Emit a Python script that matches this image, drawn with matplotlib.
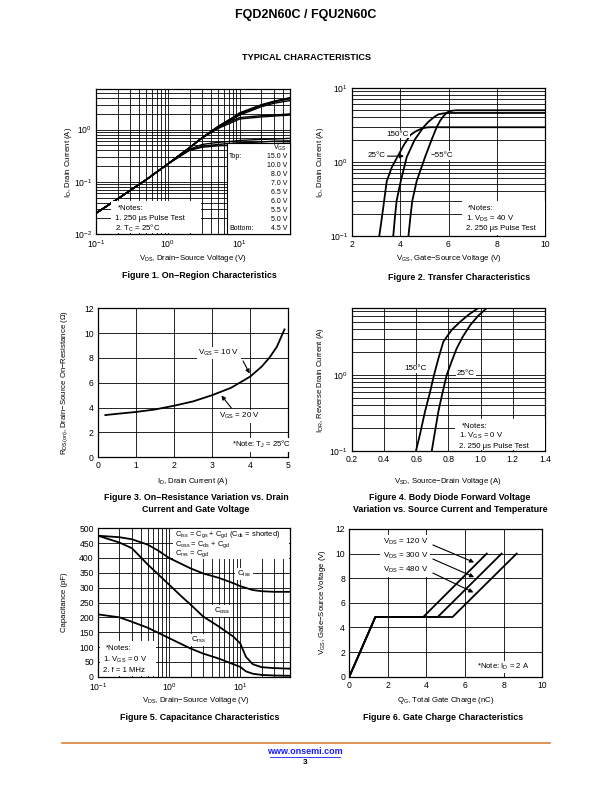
import matplotlib
matplotlib.use('Agg')
import matplotlib.pyplot as plt
from matplotlib.patches import Rectangle
from matplotlib.lines import Line2D
from matplotlib.ticker import LogLocator, NullFormatter, FormatStrFormatter
import numpy as np

plt.rcParams['font.family'] = ['Liberation Sans', 'DejaVu Sans']
plt.rcParams['mathtext.fontset'] = 'custom'
plt.rcParams['mathtext.rm'] = 'Liberation Sans'
plt.rcParams['mathtext.it'] = 'Liberation Sans:italic'
plt.rcParams['mathtext.bf'] = 'Liberation Sans:bold'
plt.rcParams['mathtext.default'] = 'regular'

# ---------------- DATA ----------------
# Figure 1: On-region characteristics (ID vs VDS for several VGS)
fig1_vds = [0.1, 0.2, 0.5, 1, 2, 3, 5, 8, 10, 20, 30, 50]
fig1_vgs_labels = ['15.0 V', '10.0 V', '8.0 V', '7.0 V', '6.5 V', '6.0 V', '5.5 V', '5.0 V', '4.5 V']
fig1_id_15v = [0.025, 0.047, 0.11, 0.22, 0.45, 0.70, 1.15, 1.70, 2.10, 3.00, 3.50, 4.10]
fig1_id_10v = [0.025, 0.047, 0.11, 0.22, 0.45, 0.70, 1.15, 1.70, 2.05, 2.95, 3.45, 4.00]
fig1_id_8v = [0.025, 0.047, 0.11, 0.22, 0.45, 0.70, 1.14, 1.65, 2.00, 2.90, 3.40, 3.90]
fig1_id_7v = [0.025, 0.047, 0.11, 0.22, 0.45, 0.70, 1.12, 1.60, 1.90, 2.75, 3.20, 3.60]
fig1_id_65v = [0.025, 0.047, 0.11, 0.22, 0.45, 0.70, 1.10, 1.50, 1.70, 1.85, 1.90, 2.00]
fig1_id_6v = [0.025, 0.047, 0.11, 0.22, 0.45, 0.69, 1.05, 1.40, 1.60, 1.75, 1.82, 1.90]
fig1_id_55v = [0.025, 0.047, 0.11, 0.22, 0.42, 0.52, 0.57, 0.60, 0.62, 0.65, 0.66, 0.68]
fig1_id_5v = [0.025, 0.047, 0.11, 0.22, 0.41, 0.48, 0.52, 0.55, 0.56, 0.58, 0.60, 0.61]
fig1_id_45v = [0.025, 0.047, 0.11, 0.22, 0.40, 0.46, 0.49, 0.50, 0.51, 0.53, 0.54, 0.55]

# Figure 2: Transfer characteristics
fig2_vgs_150 = [3.13, 3.22, 3.30, 3.44, 3.65, 3.88, 4.15, 4.41, 4.60, 4.80, 4.96, 5.10, 5.25, 10.0]
fig2_id_150 = [0.10, 0.16, 0.25, 0.55, 0.85, 1.17, 1.70, 2.30, 2.55, 2.75, 2.87, 2.93, 2.95, 2.95]
fig2_vgs_25 = [3.71, 3.78, 3.85, 4.02, 4.27, 4.60, 4.96, 5.15, 5.30, 5.45, 5.58, 5.75, 5.90, 6.10, 10.0]
fig2_id_25 = [0.10, 0.18, 0.30, 0.55, 1.17, 2.00, 2.95, 3.45, 3.80, 4.15, 4.40, 4.52, 4.58, 4.60, 4.60]
fig2_vgs_m55 = [4.34, 4.42, 4.50, 4.68, 5.03, 5.30, 5.51, 5.65, 5.80, 5.92, 6.00, 6.15, 6.30, 10.0]
fig2_id_m55 = [0.10, 0.18, 0.30, 0.55, 1.17, 2.00, 2.95, 3.60, 4.20, 4.60, 4.80, 4.93, 5.00, 5.00]

# Figure 3: On-resistance vs drain current
fig3_id = [0.2, 0.5, 1.0, 1.5, 2.0, 2.5, 3.0, 3.5, 4.0, 4.3, 4.5, 4.7, 4.9]
fig3_rds = [3.4, 3.5, 3.65, 3.85, 4.15, 4.5, 5.0, 5.6, 6.5, 7.3, 8.0, 8.9, 10.3]

# Figure 4: Body diode forward voltage
fig4_vsd_150 = [0.599, 0.625, 0.655, 0.685, 0.711, 0.740, 0.769, 0.820, 0.873, 0.930, 0.986]
fig4_is_150 = [0.10, 0.17, 0.33, 0.58, 1.00, 1.70, 2.74, 3.90, 5.00, 6.30, 7.60]
fig4_vsd_25 = [0.697, 0.715, 0.738, 0.765, 0.790, 0.820, 0.852, 0.890, 0.935, 0.985, 1.039]
fig4_is_25 = [0.10, 0.17, 0.33, 0.60, 1.00, 1.50, 2.24, 3.20, 4.50, 6.00, 7.60]

# Figure 5: Capacitance characteristics
fig5_vds_ciss = [0.1, 0.2, 0.3, 0.5, 0.7, 1, 2, 3, 5, 8, 10, 15, 20, 30, 50]
fig5_ciss = [475, 470, 463, 445, 425, 400, 365, 348, 333, 315, 305, 292, 288, 286, 286]
fig5_vds_coss = [0.1, 0.2, 0.3, 0.5, 0.7, 1, 1.5, 2, 3, 5, 8, 10, 12, 15, 20, 30, 50]
fig5_coss = [475, 452, 433, 378, 345, 310, 270, 243, 203, 169, 135, 112, 67, 42, 32, 29, 27]
fig5_vds_crss = [0.1, 0.2, 0.3, 0.5, 1, 2, 3, 5, 8, 10, 12, 15, 20, 30, 50]
fig5_crss = [210, 200, 185, 165, 130, 95, 78, 61, 42, 33, 18, 10, 6, 4, 3]

# Figure 6: Gate charge characteristics
fig6_qg_120 = [0, 1.35, 3.83, 7.12]
fig6_qg_300 = [0, 1.35, 4.58, 7.89]
fig6_qg_480 = [0, 1.35, 5.35, 8.67]
fig6_vgs = [0, 4.85, 4.85, 10.0]

# ---------------- FIGURE ----------------
W, H = 612, 792
fig = plt.figure(figsize=(W / 100, H / 100), dpi=100)


def make_ax(l, t, r, b):
    return fig.add_axes([l / W, 1 - b / H, (r - l) / W, (b - t) / H])


def style(ax):
    for s in ax.spines.values():
        s.set_linewidth(0.9)
        s.set_color('black')
    ax.tick_params(which='both', length=0, labelsize=6.2, pad=3)
    ax.set_axisbelow(True)


def ftext(x, y, s, size=5.6, ha='center', va='center', **kw):
    return fig.text(x / W, 1 - y / H, s, fontsize=size, ha=ha, va=va, **kw)


def white_rect(x0, y0, x1, y1, edge='none', lw=0.8):
    r = Rectangle((x0 / W, 1 - y1 / H), (x1 - x0) / W, (y1 - y0) / H,
                  transform=fig.transFigure, facecolor='white', edgecolor=edge,
                  linewidth=lw, zorder=2)
    fig.add_artist(r)


def log_minor(axis):
    axis.set_minor_locator(LogLocator(base=10, subs=np.arange(2, 10)))
    axis.set_minor_formatter(NullFormatter())


GRID = dict(color='black', linewidth=0.6)
LW = 1.3
WB = dict(facecolor='white', edgecolor='none', pad=0.8)

# Header
ftext(306, 15, 'FQD2N60C / FQU2N60C', size=9, weight='bold')
ftext(306, 57, 'TYPICAL CHARACTERISTICS', size=6.6, weight='bold')

# ---------- Figure 1 ----------
ax1 = make_ax(96, 89, 290, 234)
style(ax1)
ax1.set_xscale('log')
ax1.set_yscale('log')
ax1.set_xlim(0.1, 50)
ax1.set_ylim(0.01, 6)
log_minor(ax1.xaxis)
log_minor(ax1.yaxis)
ax1.grid(which='both', **GRID)
for ys in [fig1_id_15v, fig1_id_10v, fig1_id_8v, fig1_id_7v, fig1_id_65v,
           fig1_id_6v, fig1_id_55v, fig1_id_5v, fig1_id_45v]:
    ax1.plot(fig1_vds, ys, color='black', lw=1.0)
# legend box
white_rect(227, 143, 290, 234, edge='black')
ftext(280, 148, '$V_{GS}$', size=5.0)
ftext(229, 156, 'Top:', size=5.0, ha='left')
ftext(229, 229, 'Bottom:', size=5.0, ha='left')
for i, lab in enumerate(fig1_vgs_labels):
    ftext(287, 156 + i * 9.1, lab, size=5.0, ha='right')
# notes
white_rect(111, 201, 201, 233)
ftext(118, 208, '*Notes:', size=5.6, ha='left')
ftext(115, 218.5, '1. 250 μs Pulse Test', size=5.6, ha='left')
ftext(115, 228.5, '2. $T_C$ = 25°C', size=5.6, ha='left')
ftext(193, 258, '$V_{DS}$, Drain−Source Voltage (V)', size=5.6)
ftext(69, 162, '$I_D$, Drain Current (A)', size=5.6, rotation=90)
ftext(199, 276, 'Figure 1. On−Region Characteristics', size=6.4, weight='bold')

# ---------- Figure 2 ----------
ax2 = make_ax(352, 88, 545, 236)
style(ax2)
ax2.set_yscale('log')
ax2.set_xlim(2, 10)
ax2.set_ylim(0.1, 10)
ax2.set_xticks([2, 4, 6, 8, 10])
log_minor(ax2.yaxis)
ax2.grid(which='major', axis='x', **GRID)
ax2.grid(which='both', axis='y', **GRID)
ax2.plot(fig2_vgs_150, fig2_id_150, color='black', lw=LW)
ax2.plot(fig2_vgs_25, fig2_id_25, color='black', lw=LW)
ax2.plot(fig2_vgs_m55, fig2_id_m55, color='black', lw=LW)
ax2.annotate('', xy=(4.27, 1.2), xytext=(3.35, 1.2),
             arrowprops=dict(arrowstyle='-|>', color='black', lw=0.8, mutation_scale=6))
ftext(377, 155.7, '25°C', size=5.8, bbox=dict(facecolor='white', edgecolor='none', pad=0.5))
ftext(398, 134, '150°C', size=5.8, bbox=dict(facecolor='white', edgecolor='none', pad=0.5))
ftext(442, 155.7, '−55°C', size=5.8, bbox=dict(facecolor='white', edgecolor='none', pad=0.5))
white_rect(462, 201, 545, 235)
ftext(468, 209, '*Notes:', size=5.6, ha='left')
ftext(466, 219, '1. $V_{DS}$ = 40 V', size=5.6, ha='left')
ftext(466, 229, '2. 250 μs Pulse Test', size=5.6, ha='left')
ftext(449, 259, '$V_{GS}$, Gate−Source Voltage (V)', size=5.6)
ftext(321, 162, '$I_D$, Drain Current (A)', size=5.6, rotation=90)
ftext(459, 277, 'Figure 2. Transfer Characteristics', size=6.4, weight='bold')

# ---------- Figure 3 ----------
ax3 = make_ax(97.7, 308.3, 288.3, 457.3)
style(ax3)
ax3.set_xlim(0, 5)
ax3.set_ylim(0, 12)
ax3.set_xticks([0, 1, 2, 3, 4, 5])
ax3.set_yticks([0, 2, 4, 6, 8, 10, 12])
ax3.grid(which='major', **GRID)
ax3.plot(fig3_id, fig3_rds, color='black', lw=LW)
ax3.annotate('', xy=(4.02, 6.55), xytext=(3.78, 7.95),
             arrowprops=dict(arrowstyle='-|>', color='black', lw=0.8, mutation_scale=6))
ax3.annotate('', xy=(3.2, 5.15), xytext=(3.55, 3.8),
             arrowprops=dict(arrowstyle='-|>', color='black', lw=0.8, mutation_scale=6))
ax3.text(3.18, 8.4, '$V_{GS}$ = 10 V', fontsize=5.8, ha='center', va='center', bbox=WB, zorder=5)
ax3.text(3.72, 3.3, '$V_{GS}$ = 20 V', fontsize=5.8, ha='center', va='center', bbox=WB, zorder=5)
ax3.text(4.3, 1.0, '*Note: $T_J$ = 25°C', fontsize=5.6, ha='center', va='center', bbox=WB, zorder=5)
ftext(193, 481, '$I_D$, Drain Current (A)', size=5.6)
ftext(65, 383, '$R_{DS(on)}$, Drain−Source On−Resistance (Ω)', size=5.6, rotation=90)
ftext(196, 498, 'Figure 3. On−Resistance Variation vs. Drain', size=6.4, weight='bold')
ftext(196, 510, 'Current and Gate Voltage', size=6.4, weight='bold')

# ---------- Figure 4 ----------
ax4 = make_ax(351.7, 308, 545, 451)
style(ax4)
ax4.set_yscale('log')
ax4.set_xlim(0.2, 1.4)
ax4.set_ylim(0.1, 7.6)
ax4.set_xticks([0.2, 0.4, 0.6, 0.8, 1.0, 1.2, 1.4])
ax4.xaxis.set_major_formatter(FormatStrFormatter('%.1f'))
log_minor(ax4.yaxis)
ax4.grid(which='major', axis='x', **GRID)
ax4.grid(which='both', axis='y', **GRID)
ax4.plot(fig4_vsd_150, fig4_is_150, color='black', lw=LW)
ax4.plot(fig4_vsd_25, fig4_is_25, color='black', lw=LW)
ftext(416, 369, '150°C', size=5.8, bbox=dict(facecolor='white', edgecolor='none', pad=0.5))
ftext(466, 373, '25°C', size=5.8, bbox=dict(facecolor='white', edgecolor='none', pad=0.5))
white_rect(455, 419, 545, 450)
ftext(462, 426, '*Notes:', size=5.6, ha='left')
ftext(459, 436, '1. $V_{GS}$ = 0 V', size=5.6, ha='left')
ftext(459, 446, '2. 250 μs Pulse Test', size=5.6, ha='left')
ftext(448, 481, '$V_{SD}$, Source−Drain Voltage (A)', size=5.6)
ftext(321, 380, '$I_{DR}$, Reverse Drain Current (A)', size=5.6, rotation=90)
ftext(450, 498, 'Figure 4. Body Diode Forward Voltage', size=6.4, weight='bold')
ftext(450, 510, 'Variation vs. Source Current and Temperature', size=6.4, weight='bold')

# ---------- Figure 5 ----------
ax5 = make_ax(98, 528.3, 290, 676.7)
style(ax5)
ax5.set_xscale('log')
ax5.set_xlim(0.1, 50)
ax5.set_ylim(0, 500)
ax5.set_yticks(np.arange(0, 501, 50))
log_minor(ax5.xaxis)
ax5.grid(which='both', **GRID)
ax5.plot(fig5_vds_ciss, fig5_ciss, color='black', lw=LW)
ax5.plot(fig5_vds_coss, fig5_coss, color='black', lw=LW)
ax5.plot(fig5_vds_crss, fig5_crss, color='black', lw=LW)
white_rect(173, 529, 289, 559)
ftext(175, 534.5, '$C_{iss}$ = $C_{gs}$ + $C_{gd}$ ($C_{ds}$ = shorted)', size=5.4, ha='left')
ftext(175, 544.5, '$C_{oss}$ = $C_{ds}$ + $C_{gd}$', size=5.4, ha='left')
ftext(175, 554, '$C_{rss}$ = $C_{gd}$', size=5.4, ha='left')
ftext(244, 574, '$C_{iss}$', size=5.8, bbox=dict(facecolor='white', edgecolor='none', pad=1))
ftext(222, 611, '$C_{oss}$', size=5.8, bbox=dict(facecolor='white', edgecolor='none', pad=1))
ftext(199, 640, '$C_{rss}$', size=5.8, bbox=dict(facecolor='white', edgecolor='none', pad=1))
white_rect(100, 641, 156, 676)
ftext(106, 648, '*Notes:', size=5.6, ha='left')
ftext(103, 660, '1. $V_{GS}$ = 0 V', size=5.6, ha='left')
ftext(103, 671, '2. f = 1 MHz', size=5.6, ha='left')
ftext(196, 701, '$V_{DS}$, Drain−Source Voltage (V)', size=5.6)
ftext(64, 602, 'Capacitance (pF)', size=5.6, rotation=90)
ftext(200, 718, 'Figure 5. Capacitance Characteristics', size=6.4, weight='bold')

# ---------- Figure 6 ----------
ax6 = make_ax(349.3, 529, 542.3, 676.7)
style(ax6)
ax6.set_xlim(0, 10)
ax6.set_ylim(0, 12)
ax6.set_xticks([0, 2, 4, 6, 8, 10])
ax6.set_yticks([0, 2, 4, 6, 8, 10, 12])
ax6.grid(which='major', **GRID)
ax6.plot(fig6_qg_120, fig6_vgs, color='black', lw=LW)
ax6.plot(fig6_qg_300, fig6_vgs, color='black', lw=LW)
ax6.plot(fig6_qg_480, fig6_vgs, color='black', lw=LW)
for (ty, tip) in [(10.94, (6.6, 9.2)), (9.8, (6.6, 8.0)), (8.67, (6.56, 6.75))]:
    ax6.annotate('', xy=tip, xytext=(4.2, ty - 0.15),
                 arrowprops=dict(arrowstyle='-|>', color='black', lw=0.8, mutation_scale=6))
for (ty, lab) in [(10.94, '120 V'), (9.8, '300 V'), (8.67, '480 V')]:
    ax6.text(2.9, ty, '$V_{DS}$ = ' + lab, fontsize=5.8, ha='center', va='center',
             bbox=dict(facecolor='white', edgecolor='none', pad=1.6), zorder=5)
ax6.text(8.0, 0.8, '*Note: $I_D$ = 2 A', fontsize=5.6, ha='center', va='center', bbox=WB, zorder=5)
ftext(446, 701, '$Q_G$, Total Gate Charge (nC)', size=5.6)
ftext(322, 602, '$V_{GS}$, Gate−Source Voltage (V)', size=5.6, rotation=90)
ftext(443, 718, 'Figure 6. Gate Charge Characteristics', size=6.4, weight='bold')

# ---------- Footer ----------
fig.add_artist(Line2D([62 / W, 550 / W], [1 - 743 / H, 1 - 743 / H], transform=fig.transFigure,
                      color='#D9823A', linewidth=1.2))
ftext(305, 752, 'www.onsemi.com', size=6.5, weight='bold', color='#1a1aff')
fig.add_artist(Line2D([270 / W, 340 / W], [1 - 756.5 / H, 1 - 756.5 / H], transform=fig.transFigure,
                      color='#1a1aff', linewidth=0.6))
ftext(305, 763, '3', size=6, weight='bold')

fig.savefig('out.png', dpi=100)
